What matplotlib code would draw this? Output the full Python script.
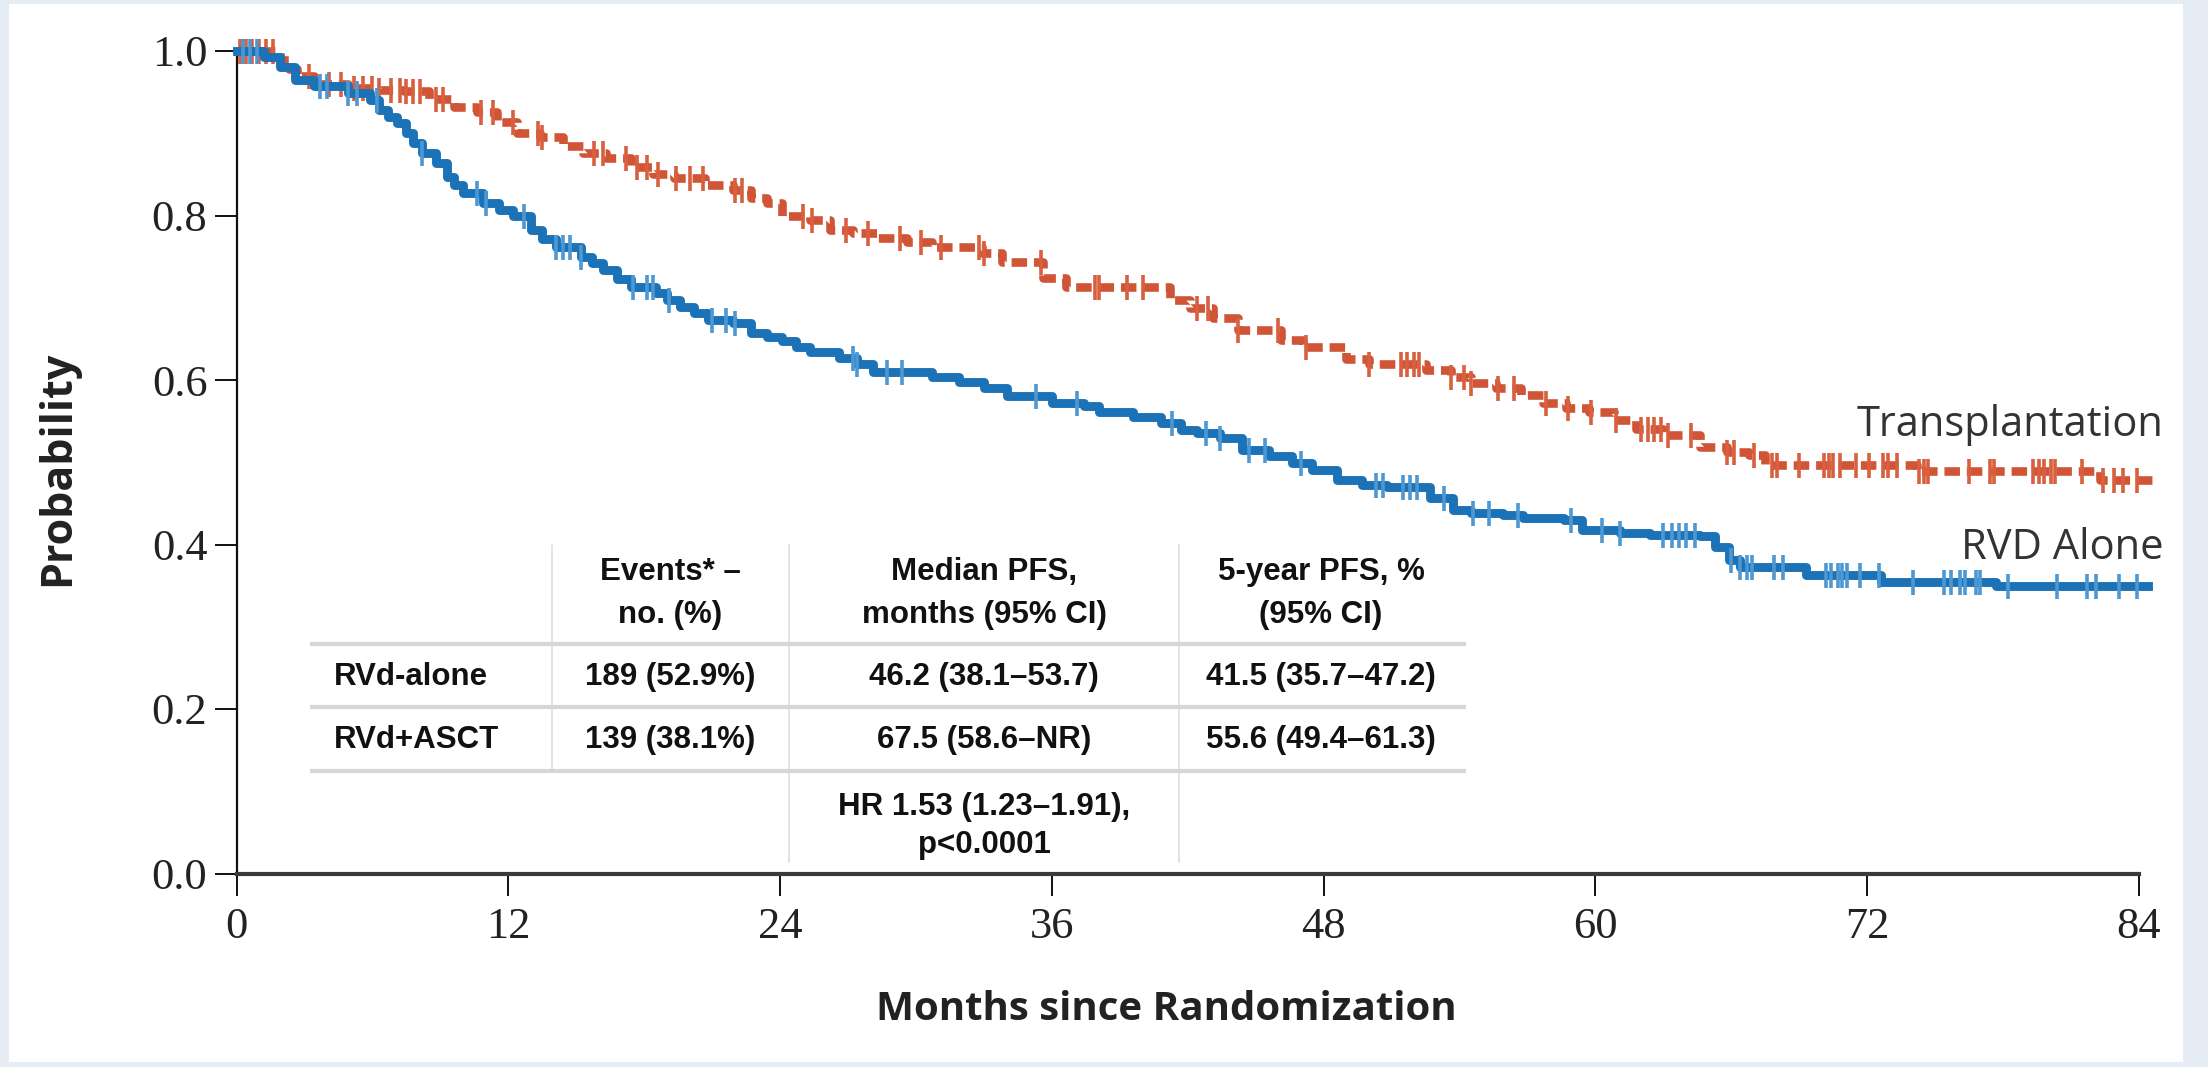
import numpy as np
import matplotlib
matplotlib.use("Agg")
import matplotlib.pyplot as plt
from matplotlib.lines import Line2D
from matplotlib.patches import Rectangle

W, H = 2208, 1067
DPI = 100

# ---------------- data ----------------
rvd_time = [0, 1.2, 1.9, 2.6, 3.4, 4.9, 5.9, 6.3, 6.7, 7.1, 7.5, 7.8, 8.2, 8.8, 9.3, 9.6,
            10.0, 10.9, 11.6, 12.2, 13.0, 13.5, 14.1, 15.2, 15.7, 16.2, 16.8, 17.4, 18.5,
            19.0, 19.6, 20.2, 20.8, 21.9, 22.7, 23.4, 24.1, 24.7, 25.3, 26.6, 27.4, 28.1,
            30.7, 31.9, 33.0, 34.0, 36.0, 37.4, 38.1, 39.6, 40.8, 41.7, 42.4, 43.4, 44.4,
            45.6, 46.6, 47.5, 48.6, 49.7, 50.8, 52.7, 53.7, 54.5, 55.9, 56.8, 58.6, 59.4,
            61.1, 62.4, 64.6, 65.3, 65.9, 66.4, 69.3, 72.6, 77.7, 84.4]
rvd_surv = [1.0, 0.993, 0.981, 0.965, 0.957, 0.949, 0.940, 0.928, 0.920, 0.912, 0.900, 0.888,
            0.876, 0.864, 0.847, 0.837, 0.827, 0.815, 0.807, 0.799, 0.782, 0.772, 0.762, 0.750,
            0.742, 0.734, 0.723, 0.713, 0.706, 0.697, 0.689, 0.681, 0.673, 0.669, 0.657, 0.652,
            0.647, 0.640, 0.634, 0.627, 0.620, 0.610, 0.604, 0.598, 0.590, 0.580, 0.572, 0.568,
            0.561, 0.555, 0.548, 0.539, 0.535, 0.529, 0.515, 0.507, 0.499, 0.491, 0.478, 0.472,
            0.470, 0.456, 0.442, 0.438, 0.436, 0.432, 0.430, 0.418, 0.414, 0.412, 0.410, 0.397,
            0.381, 0.373, 0.363, 0.355, 0.349, 0.349]
rvd_censor = [0.3, 0.6, 0.9, 3.7, 4.0, 4.9, 5.3, 6.2, 8.2, 10.6, 11.0, 12.7, 14.1, 14.4, 14.7,
              15.2, 17.5, 18.1, 18.4, 19.1, 21.0, 21.6, 22.0, 27.2, 27.4, 28.7, 29.4, 35.3,
              37.1, 41.3, 42.8, 43.4, 44.7, 45.4, 47.0, 50.3, 50.6, 51.5, 51.8, 52.1, 53.3,
              54.6, 55.3, 56.6, 58.9, 60.3, 61.1, 63.0, 63.4, 63.7, 64.0, 64.4, 66.0, 66.4,
              66.7, 66.9, 67.9, 68.3, 70.2, 70.4, 70.7, 70.9, 71.1, 71.7, 72.5, 74.0, 75.4,
              75.7, 76.1, 76.3, 76.8, 77.0, 78.2, 80.4, 81.7, 82.1, 83.1, 83.9]

tx_time = [0, 1.9, 2.3, 2.65, 3.4, 4.9, 6.3, 7.4, 8.5, 9.6, 10.6, 11.5, 12.4, 13.4, 14.4,
           15.3, 16.3, 17.4, 18.4, 19.3, 20.7, 21.9, 22.7, 23.4, 24.1, 25.3, 26.2, 27.2, 28.3,
           29.6, 30.7, 32.9, 33.8, 35.6, 36.6, 41.2, 42.1, 43.1, 44.2, 46.1, 47.1, 49.0, 50.0,
           52.5, 53.6, 54.5, 55.6, 56.7, 57.7, 58.7, 59.7, 60.8, 61.8, 63.0, 64.6, 65.8, 66.8,
           67.5, 74.2, 82.3, 84.6]
tx_surv = [1.0, 0.989, 0.978, 0.969, 0.960, 0.955, 0.953, 0.951, 0.942, 0.932, 0.926, 0.914,
           0.900, 0.896, 0.884, 0.876, 0.870, 0.859, 0.851, 0.846, 0.837, 0.831, 0.821, 0.815,
           0.800, 0.794, 0.782, 0.779, 0.773, 0.768, 0.762, 0.754, 0.744, 0.724, 0.713, 0.697,
           0.687, 0.675, 0.661, 0.649, 0.640, 0.626, 0.620, 0.612, 0.604, 0.596, 0.590, 0.582,
           0.572, 0.566, 0.561, 0.551, 0.541, 0.533, 0.519, 0.513, 0.509, 0.497, 0.489, 0.479,
           0.479]
tx_censor = [0.15, 0.4, 0.7, 1.0, 1.3, 1.6, 3.2, 4.1, 4.6, 5.2, 5.6, 6.0, 6.3, 6.8, 7.2, 7.5,
             7.8, 8.1, 8.8, 9.1, 10.8, 11.3, 12.2, 13.3, 13.5, 15.8, 16.2, 17.2, 17.7, 18.1,
             18.6, 19.4, 20.0, 20.6, 22.0, 22.3, 25.0, 25.4, 26.9, 27.9, 29.3, 30.2, 31.1,
             32.8, 33.0, 35.5, 37.9, 38.1, 39.3, 40.0, 42.4, 42.9, 44.2, 46.0, 47.2, 50.0,
             51.4, 51.7, 52.0, 52.2, 53.6, 54.2, 54.5, 55.7, 56.4, 57.8, 58.8, 59.8, 60.9,
             62.0, 62.3, 62.6, 62.9, 63.2, 64.2, 65.8, 66.1, 67.0, 67.8, 68.0, 69.0, 70.1,
             70.3, 70.5, 70.8, 71.5, 72.1, 72.7, 72.9, 73.3, 74.3, 74.5, 74.7, 76.5, 77.4,
             77.6, 79.3, 79.6, 79.8, 80.1, 80.3, 81.5, 82.4, 82.9, 83.3, 83.9]

x_ticks = [0, 12, 24, 36, 48, 60, 72, 84]
y_ticks = [0.0, 0.2, 0.4, 0.6, 0.8, 1.0]
y_tick_labels = ["0.0", "0.2", "0.4", "0.6", "0.8", "1.0"]

curve_labels = ["Transplantation", "RVD Alone"]
table_header = [["Events* \u2013", "no. (%)"],
                ["Median PFS,", "months (95% CI)"],
                ["5-year PFS, %", "(95% CI)"]]
table_rows = ["RVd-alone", "RVd+ASCT"]
events = ["189 (52.9%)", "139 (38.1%)"]
median_pfs = ["46.2 (38.1\u201353.7)", "67.5 (58.6\u2013NR)"]
pfs5 = ["41.5 (35.7\u201347.2)", "55.6 (49.4\u201361.3)"]
hr_text = ["HR 1.53 (1.23\u20131.91),", "p<0.0001"]

# ---------------- styling ----------------
BLUE = "#1b72b6"
RED = "#cf5536"
BLUE_TICK = "#4d97d2"
RED_TICK = "#d9603f"
BORDER = "#e5ecf3"


def fx(x):
    return x / W


def fy(y):
    return 1 - y / H


def surv_at(times, survs, tc):
    times = np.asarray(times)
    survs = np.asarray(survs)
    idx = np.searchsorted(times, np.asarray(tc), side="right") - 1
    return survs[np.clip(idx, 0, len(survs) - 1)]


fig = plt.figure(figsize=(W / DPI, H / DPI), dpi=DPI, facecolor=BORDER)
fig.patches.append(Rectangle((fx(9), fy(1062)), fx(2183) - fx(9), fy(4) - fy(1062),
                             transform=fig.transFigure, facecolor="white",
                             edgecolor="none", zorder=-5))

ax = fig.add_axes([fx(236.6), fy(873.5), (2139 - 236.6) / W, (873.5 - 51) / H])
ax.set_facecolor("none")
ax.set_xlim(0, 84)
ax.set_ylim(0, 1.0)

# curves
ax.step(tx_time, tx_surv, where="post", color=RED, lw=6.2, dashes=(1.8, 0.8),
        solid_capstyle="butt", clip_on=False, zorder=3)
ax.plot(tx_censor, surv_at(tx_time, tx_surv, tx_censor), ls="none", marker="|",
        ms=18, mew=2.6, color=RED_TICK, clip_on=False, zorder=3)

ax.step(rvd_time, rvd_surv, where="post", color=BLUE, lw=6.4, clip_on=False, zorder=4)
ax.plot(rvd_censor, surv_at(rvd_time, rvd_surv, rvd_censor), ls="none", marker="|",
        ms=18, mew=2.6, color=BLUE_TICK, clip_on=False, zorder=4)

# axes styling
for s in ["top", "right"]:
    ax.spines[s].set_visible(False)
ax.spines["left"].set_linewidth(1.6)
ax.spines["left"].set_color("#111111")
ax.spines["bottom"].set_linewidth(3.0)
ax.spines["bottom"].set_color("#3a3a3a")

ax.set_xticks(x_ticks)
ax.set_xticklabels([str(v) for v in x_ticks], fontfamily="Liberation Serif",
                   fontsize=32, color="#222222")
ax.set_yticks(y_ticks)
ax.set_yticklabels(y_tick_labels, fontfamily="Liberation Serif", fontsize=32,
                   color="#222222")
ax.tick_params(axis="y", direction="out", length=16, width=1.4, pad=5, color="#111111")
ax.tick_params(axis="x", direction="out", length=16, width=1.4, pad=8, color="#111111")

# curve labels
ax.text(85.1, 0.532, curve_labels[0], ha="right", va="baseline", fontfamily="Open Sans",
        fontsize=30, color="#333333", clip_on=False)
ax.text(85.1, 0.382, curve_labels[1], ha="right", va="baseline", fontfamily="Open Sans",
        fontsize=30, color="#333333", clip_on=False)

# axis titles
fig.text(fx(58), fy(468), "Probability", rotation=90, ha="center", va="center",
         fontfamily="Open Sans", fontweight="bold", fontsize=31, color="#222222")
fig.text(fx(1166), fy(1010), "Months since Randomization", ha="center", va="center",
         fontfamily="Open Sans", fontweight="bold", fontsize=29, color="#222222")

# ---------------- table ----------------
GRID_H = "#d6d6d6"
GRID_V = "#dedede"


def hline(y, x1, x2):
    fig.add_artist(Line2D([fx(x1), fx(x2)], [fy(y), fy(y)], transform=fig.transFigure,
                          color=GRID_H, lw=3.0, zorder=5))


def vline(x, y1, y2):
    fig.add_artist(Line2D([fx(x), fx(x)], [fy(y1), fy(y2)], transform=fig.transFigure,
                          color=GRID_V, lw=1.2, zorder=5))


vline(552, 545, 771)
vline(789, 545, 862)
vline(1179, 545, 862)
for yy in (644, 707, 771):
    hline(yy, 312, 1464)

TFONT = dict(fontfamily="Liberation Sans", fontweight="bold", fontsize=22.5,
             color="#111111", zorder=6)
col_x = [670, 984, 1321]
for cx, (l1, l2) in zip(col_x, table_header):
    fig.text(fx(cx), fy(572), l1, ha="center", va="center", **TFONT)
    fig.text(fx(cx), fy(615), l2, ha="center", va="center", **TFONT)

row_y = [677, 740]
for ry, name, ev, med, p5 in zip(row_y, table_rows, events, median_pfs, pfs5):
    fig.text(fx(334), fy(ry), name, ha="left", va="center", **TFONT)
    fig.text(fx(col_x[0]), fy(ry), ev, ha="center", va="center", **TFONT)
    fig.text(fx(col_x[1]), fy(ry), med, ha="center", va="center", **TFONT)
    fig.text(fx(col_x[2]), fy(ry), p5, ha="center", va="center", **TFONT)

fig.text(fx(col_x[1]), fy(807), hr_text[0], ha="center", va="center", **TFONT)
fig.text(fx(col_x[1]), fy(845), hr_text[1], ha="center", va="center", **TFONT)

fig.savefig("out.png", dpi=DPI, facecolor=fig.get_facecolor())
